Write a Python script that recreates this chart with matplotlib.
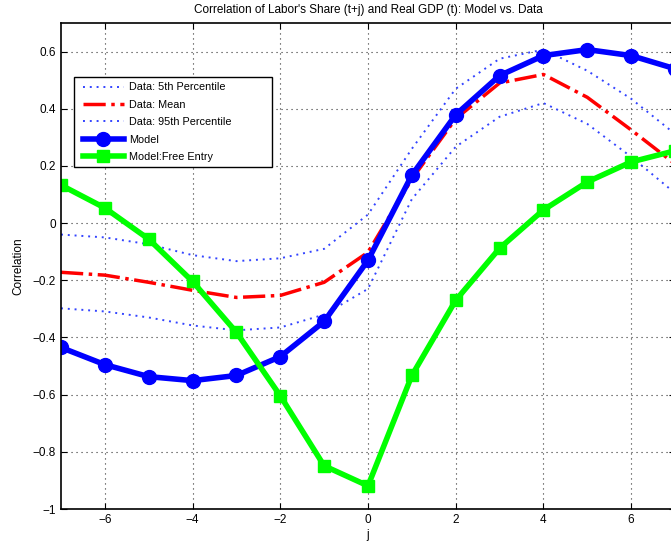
import matplotlib
matplotlib.use("Agg")
import matplotlib.pyplot as plt
from matplotlib.patches import Rectangle
import numpy as np

plt.rcParams['font.family'] = ['Liberation Sans', 'DejaVu Sans']

j = list(range(-7, 8))
p5 = [-0.298, -0.309, -0.330, -0.358, -0.375, -0.365, -0.320, -0.230, 0.084, 0.267, 0.372, 0.420, 0.347, 0.232, 0.105]
mean = [-0.172, -0.182, -0.207, -0.235, -0.260, -0.253, -0.207, -0.102, 0.154, 0.365, 0.490, 0.520, 0.440, 0.326, 0.207]
p95 = [-0.040, -0.050, -0.074, -0.112, -0.133, -0.123, -0.090, 0.030, 0.260, 0.470, 0.575, 0.607, 0.533, 0.435, 0.312]
model = [-0.435, -0.495, -0.537, -0.551, -0.533, -0.467, -0.344, -0.130, 0.168, 0.379, 0.516, 0.586, 0.607, 0.586, 0.540]
free_entry = [0.133, 0.053, -0.056, -0.204, -0.382, -0.604, -0.849, -0.919, -0.533, -0.270, -0.088, 0.046, 0.144, 0.214, 0.253]

xticks = [-6, -4, -2, 0, 2, 4, 6]
yticks = [-1, -0.8, -0.6, -0.4, -0.2, 0, 0.2, 0.4, 0.6]
yticklabels = ['\u22121', '\u22120.8', '\u22120.6', '\u22120.4', '\u22120.2', '0', '0.2', '0.4', '0.6']
xticklabels = ['\u22126', '\u22124', '\u22122', '0', '2', '4', '6']

fig = plt.figure(figsize=(6.71, 5.46), dpi=100)
W, H = 671, 546
left, right, top, bottom = 61, 675, 23, 509
ax = fig.add_axes([left / W, 1 - bottom / H, (right - left) / W, (bottom - top) / H])

dot = (0, (1, 2.5))
ax.plot(j, p5, color='#3344ff', linestyle=dot, linewidth=1.4, label='Data: 5th Percentile')
ax.plot(j, mean, color='red', linestyle='-.', linewidth=2.5, label='Data: Mean')
ax.plot(j, p95, color='#3344ff', linestyle=dot, linewidth=1.4, label='Data: 95th Percentile')
ax.plot(j, model, color='blue', linestyle='-', linewidth=4, marker='o', markersize=10, label='Model')
ax.plot(j, free_entry, color='#00ff00', linestyle='-', linewidth=4, marker='s', markersize=8, label='Model:Free Entry')

ax.set_xlim(-7, 7)
ax.set_ylim(-1, 0.7)
ax.set_xticks(xticks)
ax.set_xticklabels(xticklabels)
ax.set_yticks(yticks)
ax.set_yticklabels(yticklabels)
ax.tick_params(direction='in', top=True, right=True, labelsize=8.5, length=4)
ax.grid(True, linestyle=(0, (1, 3.5)), color='#333333', linewidth=0.8)
for s in ax.spines.values():
    s.set_linewidth(1.2)

ax.set_title("Correlation of Labor's Share (t+j) and Real GDP (t): Model vs. Data", fontsize=8.5, pad=7)
ax.set_xlabel('j', fontsize=8.5, labelpad=2)
ax.set_ylabel('Correlation', fontsize=8.5, labelpad=6)

# legend box (MATLAB style, with extra right padding)
lx0, ly0, lx1, ly1 = 74, 77, 272, 167
box = Rectangle((lx0 / W, 1 - ly1 / H), (lx1 - lx0) / W, (ly1 - ly0) / H, transform=fig.transFigure,
                facecolor='white', edgecolor='black', linewidth=1.0, zorder=4.5, clip_on=False)
ax.add_patch(box)
leg = ax.legend(loc='upper left', bbox_to_anchor=((lx0 + 4) / W, 1 - ly0 / H), bbox_transform=fig.transFigure,
                fontsize=7.8, frameon=False,
                handlelength=3.7, borderpad=0.5, labelspacing=0.68, handletextpad=0.5,
                borderaxespad=0)
leg.set_zorder(5)

fig.savefig('out.png', dpi=100)
